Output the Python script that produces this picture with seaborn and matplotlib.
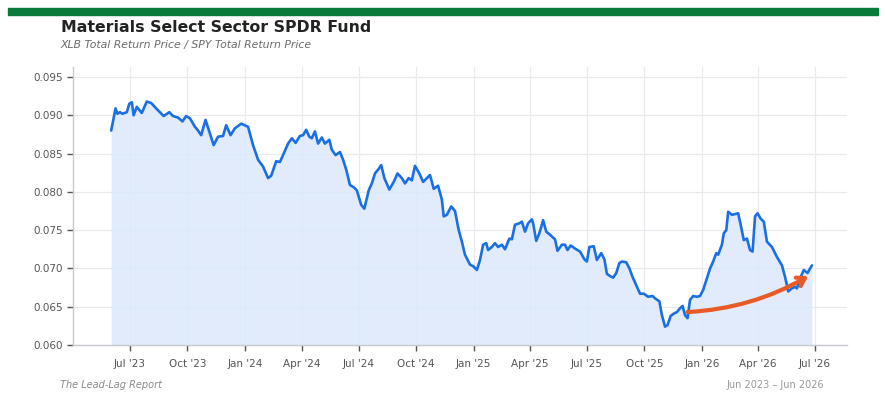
import matplotlib
matplotlib.use("Agg")
import matplotlib.pyplot as plt
import matplotlib.dates as mdates
import matplotlib.ticker as mticker
import pandas as pd
import seaborn as sns
from matplotlib.patches import Rectangle

TITLE = "Materials Select Sector SPDR Fund"
SUBTITLE = "XLB Total Return Price / SPY Total Return Price"
SOURCE = "The Lead-Lag Report"
RANGE_LABEL = "Jun 2023 \u2013 Jun 2026"

dates = [
    "2023-06-01", "2023-06-04", "2023-06-08", "2023-06-11", "2023-06-15", "2023-06-19",
    "2023-06-26", "2023-06-30", "2023-07-04", "2023-07-07", "2023-07-12", "2023-07-20",
    "2023-07-28", "2023-08-04", "2023-08-12", "2023-08-18", "2023-08-24", "2023-09-02",
    "2023-09-08", "2023-09-16", "2023-09-23", "2023-09-29", "2023-10-05", "2023-10-13",
    "2023-10-18", "2023-10-23", "2023-10-30", "2023-11-06", "2023-11-12", "2023-11-19",
    "2023-11-27", "2023-12-02", "2023-12-09", "2023-12-16", "2023-12-26", "2024-01-06",
    "2024-01-14", "2024-01-22", "2024-01-30", "2024-02-07", "2024-02-12", "2024-02-20",
    "2024-02-26", "2024-03-02", "2024-03-10", "2024-03-16", "2024-03-22", "2024-03-29",
    "2024-04-03", "2024-04-08", "2024-04-13", "2024-04-17", "2024-04-22", "2024-04-27",
    "2024-05-03", "2024-05-08", "2024-05-15", "2024-05-19", "2024-05-25", "2024-06-01",
    "2024-06-06", "2024-06-11", "2024-06-17", "2024-06-23", "2024-06-28", "2024-07-05",
    "2024-07-10", "2024-07-17", "2024-07-22", "2024-07-27", "2024-08-02", "2024-08-06",
    "2024-08-11", "2024-08-19", "2024-08-26", "2024-09-01", "2024-09-08", "2024-09-13",
    "2024-09-19", "2024-09-24", "2024-09-29", "2024-10-06", "2024-10-12", "2024-10-18",
    "2024-10-23", "2024-10-29", "2024-11-05", "2024-11-11", "2024-11-14", "2024-11-19",
    "2024-11-26", "2024-12-02", "2024-12-08", "2024-12-13", "2024-12-18", "2024-12-26",
    "2024-12-31", "2025-01-06", "2025-01-11", "2025-01-16", "2025-01-21", "2025-01-24",
    "2025-01-30", "2025-02-04", "2025-02-09", "2025-02-15", "2025-02-20", "2025-02-27",
    "2025-03-03", "2025-03-08", "2025-03-15", "2025-03-19", "2025-03-24", "2025-03-29",
    "2025-04-04", "2025-04-06", "2025-04-11", "2025-04-16", "2025-04-22", "2025-04-27",
    "2025-05-03", "2025-05-11", "2025-05-15", "2025-05-22", "2025-05-27", "2025-05-31",
    "2025-06-05", "2025-06-12", "2025-06-20", "2025-06-27", "2025-07-01", "2025-07-05",
    "2025-07-12", "2025-07-17", "2025-07-24", "2025-07-29", "2025-08-02", "2025-08-07",
    "2025-08-12", "2025-08-17", "2025-08-22", "2025-08-26", "2025-09-02", "2025-09-07",
    "2025-09-12", "2025-09-18", "2025-09-24", "2025-09-30", "2025-10-07", "2025-10-14",
    "2025-10-18", "2025-10-25", "2025-10-29", "2025-11-03", "2025-11-07", "2025-11-12",
    "2025-11-17", "2025-11-22", "2025-11-27", "2025-12-01", "2025-12-05", "2025-12-09",
    "2025-12-13", "2025-12-18", "2025-12-24", "2025-12-29", "2026-01-03", "2026-01-09",
    "2026-01-14", "2026-01-19", "2026-01-24", "2026-01-27", "2026-02-02", "2026-02-05",
    "2026-02-09", "2026-02-12", "2026-02-18", "2026-02-23", "2026-02-28", "2026-03-04",
    "2026-03-09", "2026-03-14", "2026-03-19", "2026-03-23", "2026-03-27", "2026-03-31",
    "2026-04-05", "2026-04-10", "2026-04-15", "2026-04-23", "2026-05-01", "2026-05-09",
    "2026-05-14", "2026-05-19", "2026-05-25", "2026-05-30", "2026-06-02", "2026-06-07",
    "2026-06-13", "2026-06-19", "2026-06-23", "2026-06-26",
]

ratio = [
    0.0880, 0.0892, 0.0909, 0.0902, 0.0904, 0.0902,
    0.0904, 0.0915, 0.0917, 0.0900, 0.0911, 0.0903,
    0.0918, 0.0916, 0.0909, 0.0904, 0.0899, 0.0904,
    0.0899, 0.0897, 0.0892, 0.0899, 0.0896, 0.0885,
    0.0880, 0.0874, 0.0894, 0.0876, 0.0861, 0.0872,
    0.0873, 0.0887, 0.0874, 0.0883, 0.0889, 0.0885,
    0.0861, 0.0842, 0.0833, 0.0818, 0.0821, 0.0840,
    0.0839, 0.0848, 0.0863, 0.0870, 0.0864, 0.0873,
    0.0874, 0.0881, 0.0872, 0.0870, 0.0879, 0.0863,
    0.0871, 0.0863, 0.0868, 0.0855, 0.0848, 0.0852,
    0.0842, 0.0829, 0.0809, 0.0806, 0.0802, 0.0783,
    0.0778, 0.0802, 0.0811, 0.0824, 0.0830, 0.0835,
    0.0818, 0.0803, 0.0813, 0.0824, 0.0818, 0.0811,
    0.0818, 0.0815, 0.0834, 0.0824, 0.0813, 0.0818,
    0.0822, 0.0804, 0.0808, 0.0790, 0.0768, 0.0770,
    0.0781, 0.0775, 0.0750, 0.0735, 0.0718, 0.0705,
    0.0703, 0.0698, 0.0711, 0.0731, 0.0733, 0.0724,
    0.0728, 0.0733, 0.0728, 0.0731, 0.0725, 0.0739,
    0.0738, 0.0757, 0.0759, 0.0761, 0.0748, 0.0759,
    0.0764, 0.0759, 0.0736, 0.0746, 0.0763, 0.0748,
    0.0744, 0.0738, 0.0723, 0.0731, 0.0731, 0.0724,
    0.0730, 0.0726, 0.0722, 0.0712, 0.0709, 0.0728,
    0.0729, 0.0711, 0.0720, 0.0712, 0.0693, 0.0690,
    0.0688, 0.0694, 0.0707, 0.0709, 0.0708, 0.0700,
    0.0689, 0.0678, 0.0667, 0.0667, 0.0663, 0.0664,
    0.0661, 0.0657, 0.0639, 0.0624, 0.0626, 0.0638,
    0.0641, 0.0643, 0.0648, 0.0651, 0.0639, 0.0635,
    0.0659, 0.0664, 0.0663, 0.0664, 0.0672, 0.0687,
    0.0700, 0.0709, 0.0720, 0.0718, 0.0731, 0.0746,
    0.0750, 0.0774, 0.0770, 0.0771, 0.0772, 0.0757,
    0.0737, 0.0739, 0.0724, 0.0722, 0.0768, 0.0772,
    0.0765, 0.0761, 0.0735, 0.0728, 0.0715, 0.0704,
    0.0689, 0.0670, 0.0674, 0.0676, 0.0674, 0.0687,
    0.0698, 0.0694, 0.0700, 0.0704,
]

# trend arrow (start, end)
arrow_dates = ["2025-12-09", "2026-06-20"]
arrow_vals = [0.0643, 0.0690]

y_ticks = [0.060, 0.065, 0.070, 0.075, 0.080, 0.085, 0.090, 0.095]
x_ticks = ["2023-07-01", "2023-10-01", "2024-01-01", "2024-04-01", "2024-07-01",
           "2024-10-01", "2025-01-01", "2025-04-01", "2025-07-01", "2025-10-01",
           "2026-01-01", "2026-04-01", "2026-07-01"]
x_lim = ["2023-04-01", "2026-08-21"]

LINE = "#1a6fe3"
FILL = "#dce8fb"
ARROW = "#ea5a26"
GREEN = "#0a7a3a"

df = pd.DataFrame({"date": pd.to_datetime(dates), "ratio": ratio})

sns.set_style("white")
plt.rcParams["font.family"] = ["DejaVu Sans"]

fig = plt.figure(figsize=(8.85, 3.99), dpi=100)
ax = fig.add_axes([0.0825, 0.1353, 0.8745, 0.6967])

ax.fill_between(df["date"], 0.060, df["ratio"], color=FILL, alpha=0.85, lw=0, zorder=1)
sns.lineplot(data=df, x="date", y="ratio", color=LINE, lw=1.9, ax=ax, zorder=3)

ax.annotate(
    "",
    xy=(pd.Timestamp(arrow_dates[1]), arrow_vals[1]),
    xytext=(pd.Timestamp(arrow_dates[0]), arrow_vals[0]),
    arrowprops=dict(arrowstyle="->,head_length=0.55,head_width=0.35", color=ARROW, lw=3,
                    connectionstyle="arc3,rad=0.12", shrinkA=0, shrinkB=0),
    zorder=4,
)

ax.set_xlim(pd.Timestamp(x_lim[0]), pd.Timestamp(x_lim[1]))
ax.set_ylim(0.060, 0.0963)
ax.set_yticks(y_ticks)
ax.yaxis.set_major_formatter(mticker.FormatStrFormatter("%.3f"))
ax.set_xticks(pd.to_datetime(x_ticks))
ax.xaxis.set_major_formatter(mdates.DateFormatter("%b '%y"))

ax.grid(True, color="#e9e9ef", lw=0.9, zorder=0)
ax.set_axisbelow(True)
for side in ["top", "right"]:
    ax.spines[side].set_visible(False)
for side in ["left", "bottom"]:
    ax.spines[side].set_color("#c8c8d0")
    ax.spines[side].set_linewidth(1.0)
ax.tick_params(axis="both", which="major", length=4, width=1, color="#555555",
               labelsize=7.5, labelcolor="#555555", bottom=True, left=True)
ax.tick_params(axis="x", pad=6)
ax.set_xlabel("")
ax.set_ylabel("")

fig.patches.append(Rectangle((8 / 885, 1 - 15 / 399), 870 / 885, 7 / 399,
                             transform=fig.transFigure, color=GREEN, zorder=0))
fig.text(61 / 885, 1 - 27 / 399, TITLE, fontsize=11.3, fontweight="bold",
         color="#222222", va="center", ha="left")
fig.text(60 / 885, 1 - 45 / 399, SUBTITLE, fontsize=7.8, style="italic",
         color="#6b6b6b", va="center", ha="left")
fig.text(60 / 885, 1 - 385 / 399, SOURCE, fontsize=7, style="italic",
         color="#8a8a8a", va="center", ha="left")
fig.text(824 / 885, 1 - 385 / 399, RANGE_LABEL, fontsize=7,
         color="#9a9a9a", va="center", ha="right")

fig.savefig("out.png", dpi=100)
plt.close(fig)
